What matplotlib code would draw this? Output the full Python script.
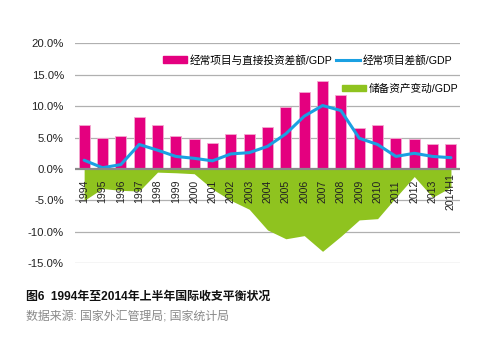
import matplotlib
matplotlib.use('agg')
import matplotlib.pyplot as plt
import matplotlib.patches as mpatches
import matplotlib.lines as mlines
import numpy as np

plt.rcParams['font.family'] = ['Liberation Sans', 'Noto Sans CJK SC', 'DejaVu Sans']

years = ['1994', '1995', '1996', '1997', '1998', '1999', '2000', '2001',
         '2002', '2003', '2004', '2005', '2006', '2007', '2008', '2009',
         '2010', '2011', '2012', '2013', '2014H1']
ca_fdi = [7.0, 4.9, 5.2, 8.2, 7.0, 5.3, 4.7, 4.1, 5.6, 5.5, 6.7,
          9.9, 12.2, 14.0, 11.7, 6.5, 7.0, 4.9, 4.7, 3.9, 3.9]
ca = [1.4, 0.2, 0.7, 3.9, 3.0, 2.0, 1.7, 1.3, 2.4, 2.6, 3.6,
      5.6, 8.4, 10.1, 9.3, 4.9, 3.9, 2.0, 2.5, 2.0, 1.8]
reserve = [-5.0, -3.1, -3.4, -3.5, -0.5, -0.6, -0.75, -3.2, -5.0, -6.4, -9.7,
           -11.1, -10.6, -13.1, -10.7, -8.1, -7.9, -4.5, -1.2, -4.5, -2.9]
yticks = [-15, -10, -5, 0, 5, 10, 15, 20]
ytick_labels = ['-15.0%', '-10.0%', '-5.0%', '0.0%', '5.0%', '10.0%', '15.0%', '20.0%']

PINK = '#e4007f'
BLUE = '#1aa0e2'
GREEN = '#8fc31f'

fig = plt.figure(figsize=(4.9, 3.62), dpi=100)
ax = fig.add_axes([0.153, 0.2727, 0.786, 0.6077])

x = np.arange(len(years))
ax.fill_between(x, reserve, 0, color=GREEN, lw=0, zorder=1)
ax.bar(x, ca_fdi, width=0.6, color=PINK, edgecolor='#f3a9d0', linewidth=0.6, zorder=2)
ax.plot(x, ca, color=BLUE, lw=2.2, zorder=3, solid_capstyle='round')

# year labels sit inside the plot, centred just under the zero line
for i, lab in enumerate(years):
    ax.text(i, -3.55, lab, rotation=90, ha='center', va='center',
            fontsize=7.6, color='#222222', zorder=4)

ax.set_xlim(-0.5, len(years) - 0.5)
ax.set_ylim(-15, 20)
ax.set_yticks(yticks)
ax.set_yticklabels(ytick_labels, fontsize=8.2, color='#222222')
ax.set_xticks([])
ax.tick_params(axis='y', length=0, pad=8)
for s in ax.spines.values():
    s.set_visible(False)
for t in yticks:
    if t == 0:
        ax.axhline(t, color='#8a8a8a', lw=1.6, zorder=5)
    else:
        ax.axhline(t, color='#b0b0b0', lw=0.9, zorder=0)

h1 = mpatches.Patch(color=PINK)
h2 = mlines.Line2D([], [], color=BLUE, lw=2.2)
h3 = mpatches.Patch(color=GREEN)
fig.legend([h1, h2], ['经常项目与直接投资差额/GDP', '经常项目差额/GDP'],
           ncol=2, loc='center left', bbox_to_anchor=(0.333, 0.834),
           frameon=False, fontsize=7.7, handlelength=2.25, handleheight=0.6,
           handletextpad=0.25, columnspacing=0.35, borderpad=0, borderaxespad=0)
fig.legend([h3], ['储备资产变动/GDP'],
           loc='center left', bbox_to_anchor=(0.698, 0.755),
           frameon=False, fontsize=7.7, handlelength=2.25, handleheight=0.6,
           handletextpad=0.25, borderpad=0, borderaxespad=0)

fig.text(0.053, 0.18, '图6  1994年至2014年上半年国际收支平衡状况',
         fontsize=8.6, fontweight='bold', color='#111111', va='center')
fig.text(0.053, 0.125, '数据来源: 国家外汇管理局; 国家统计局',
         fontsize=8.6, color='#8a8a8a', va='center')

fig.savefig('out.png', dpi=100)
